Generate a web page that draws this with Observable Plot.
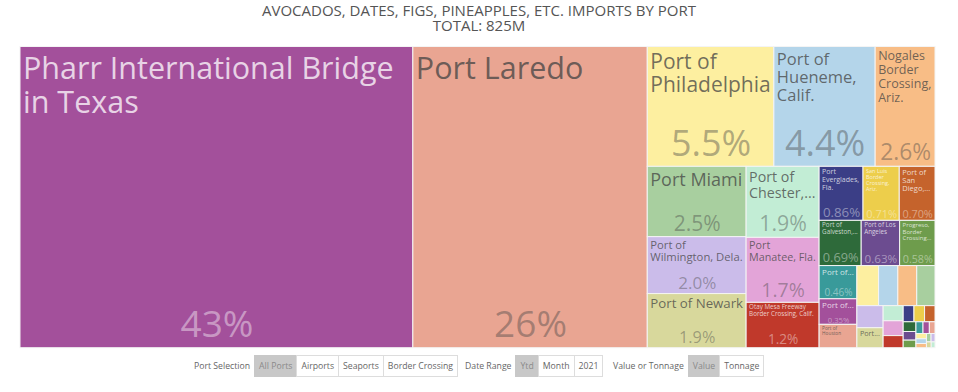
<!DOCTYPE html>
<html><head><meta charset="utf-8">
<script src="https://cdn.jsdelivr.net/npm/d3@7"></script>
<script src="https://cdn.jsdelivr.net/npm/@observablehq/plot@0.6"></script>
<style>
html,body{margin:0;padding:0;background:#fff;width:958px;height:392px;overflow:hidden;font-family:"Open Sans",sans-serif;}
#title{position:absolute;left:0;top:3px;width:958px;text-align:center;color:#555;font-size:15px;line-height:15px;}
#chart{position:absolute;left:0;top:38px;}
#controls{position:absolute;top:355px;left:0;width:958px;height:22px;font-size:8.7px;color:#666;}
.grp{position:absolute;top:0;display:flex;align-items:center;height:22px;}
.lab{margin-right:5px;color:#666;white-space:nowrap}
.btn{height:20px;line-height:20px;padding:0 4px;border:1px solid #ddd;background:#fff;color:#666;margin-left:-1px;white-space:nowrap}
.btn.on{background:#c8c8c8;border-color:#c8c8c8;color:#8a8a8a}
</style></head>
<body>
<div id="title"></div>
<div id="chart"></div>
<div id="controls"></div>
<script>
// ---- data (share of total import value, %) ----
const ports = [
  "Pharr International Bridge in Texas", "Port Laredo", "Port of Philadelphia",
  "Port of Hueneme, Calif.", "Nogales Border Crossing, Ariz.", "Port Miami",
  "Port of Wilmington, Dela.", "Port of Newark", "Port of Chester,...",
  "Port Manatee, Fla.", "Otay Mesa Freeway Border Crossing, Calif.", "Port Everglades, Fla.",
  "San Luis Border Crossing, Ariz.", "Port of San Diego,...", "Port of Galveston,...",
  "Port of Los Angeles", "Progreso, Border Crossing...", "Port of...",
  "Port of...", "Port of Houston", "", "", "", "", "", "Port...",
  "", "", "", "", "", "", "", "", "", "", "", "", "", "", "", "", "", "", ""
];
const shares = [
  42.9, 25.6, 5.5,
  4.4, 2.6, 2.52,
  2.04, 1.94, 1.88,
  1.72, 1.2, 0.86,
  0.71, 0.70, 0.69,
  0.63, 0.58, 0.455,
  0.35, 0.32, 0.315, 0.28, 0.275, 0.265, 0.21, 0.19,
  0.11, 0.108, 0.088, 0.063, 0.062, 0.061, 0.045, 0.04, 0.035, 0.03, 0.027, 0.024, 0.02, 0.018, 0.016, 0.014, 0.012, 0.01, 0.008
];
const palette = ["#a3509b","#e9a592","#fdefa0","#b4d5ea","#f8bd86","#a8cf9f","#cbbcea","#d8d89c","#c2edd5",
                 "#e3a4d8","#c0392b","#3b3e86","#edce4b","#c5632c","#2e6a3a","#6c4c90","#6e9c4c","#399a9a"];
const paletteText = ["#ffffff","#444444","#444444","#444444","#444444","#444444","#444444","#444444","#444444",
                     "#444444","#ffffff","#ffffff","#ffffff","#ffffff","#ffffff","#ffffff","#ffffff","#ffffff"];
const titleLines = ["AVOCADOS, DATES, FIGS, PINEAPPLES, ETC. IMPORTS BY PORT", "TOTAL: 825M"];
const controlGroups = [
  {label: "Port Selection", buttons: ["All Ports", "Airports", "Seaports", "Border Crossing"], on: 0, left: 194},
  {label: "Date Range", buttons: ["Ytd", "Month", "2021"], on: 0, left: 465},
  {label: "Value or Tonnage", buttons: ["Value", "Tonnage"], on: 0, left: 613}
];

const titleEl = document.getElementById("title");
titleLines.forEach(t => { const d = document.createElement("div"); d.textContent = t; titleEl.appendChild(d); });

// ---- treemap layout ----
const W = 915, H = 301.2;
const rows = ports.map((p, i) => ({label: p, value: shares[i], idx: i}));
const total = d3.sum(shares);
const root = d3.hierarchy({children: rows}).sum(d => d.value || 0);
d3.treemap().tile(d3.treemapSquarify).size([W, H]).round(false)(root);
const leaves = root.leaves().map(d => ({
  x0: d.x0, x1: d.x1, y0: d.y0, y1: d.y1,
  label: d.data.label, share: d.data.value / total,
  fill: palette[d.data.idx % palette.length], tone: paletteText[d.data.idx % palette.length]
}));

const ctx = document.createElement("canvas").getContext("2d");
function tw(s, fs) { ctx.font = `100px "Open Sans"`; return ctx.measureText(s).width * fs / 100; }
function wrap(words, fs, maxW) {
  const lines = []; let cur = "";
  for (const w of words) {
    const t = cur ? cur + " " + w : w;
    if (!cur || tw(t, fs) <= maxW) cur = t; else { lines.push(cur); cur = w; }
  }
  if (cur) lines.push(cur);
  return lines;
}
function fitLabel(label, w, h) {
  const words = label.split(" ");
  const maxW = w - 6, maxH = h * 0.46;
  for (let fs = 30.5; fs >= 4.5; fs -= 0.25) {
    const lines = wrap(words, fs, maxW);
    if (lines.every(l => tw(l, fs) <= maxW) && lines.length * 1.1 * fs <= maxH) return {fs, text: lines.join("\n")};
  }
  return null;
}
const fmt = d3.format(".2p");
const labelData = [], pctData = [];
for (const d of leaves) {
  if (!d.label) continue;
  const w = d.x1 - d.x0, h = d.y1 - d.y0;
  const f = fitLabel(d.label, w, h);
  if (f) labelData.push({x: d.x0 + 2.5, y: d.y0 + 0.28 * f.fs, text: f.text, fs: f.fs, fill: d.tone});
  const p = fmt(d.share);
  const pfs = Math.min(37, w * 0.85 / tw(p, 1), h * 0.3);
  if (pfs >= 7.3) pctData.push({x: (d.x0 + d.x1) / 2, y: d.y1 - 0.3 * pfs, text: p, fs: pfs, fill: d.tone});
}

const chart = Plot.plot({
  width: 958, height: 314, margin: 0,
  style: {background: "#fff"},
  x: {domain: [0, W], range: [20, 20 + W], axis: null},
  y: {domain: [0, H], range: [8.5, 8.5 + H], axis: null},
  color: {type: "identity"},
  marks: [
    Plot.rect(leaves, {x1: "x0", x2: "x1", y1: "y0", y2: "y1", fill: "fill", stroke: "#f4f4f4", strokeWidth: 1}),
    Plot.text(labelData, {x: "x", y: "y", text: "text", fontSize: d => d.fs, fill: "fill", fillOpacity: 0.76,
      textAnchor: "start", lineAnchor: "top", lineHeight: 1.1, fontFamily: "Open Sans"}),
    Plot.text(pctData, {x: "x", y: "y", text: "text", fontSize: d => d.fs, fill: "fill", fillOpacity: 0.42,
      textAnchor: "middle", lineAnchor: "bottom", fontFamily: "Open Sans"})
  ]
});
document.getElementById("chart").appendChild(chart);

// ---- controls ----
const ctl = document.getElementById("controls");
for (const g of controlGroups) {
  const div = document.createElement("div");
  div.className = "grp"; div.style.left = g.left + "px";
  const lab = document.createElement("span"); lab.className = "lab"; lab.textContent = g.label; div.appendChild(lab);
  g.buttons.forEach((b, i) => {
    const s = document.createElement("span"); s.className = "btn" + (i === g.on ? " on" : ""); s.textContent = b; div.appendChild(s);
  });
  ctl.appendChild(div);
}
</script>
</body></html>
